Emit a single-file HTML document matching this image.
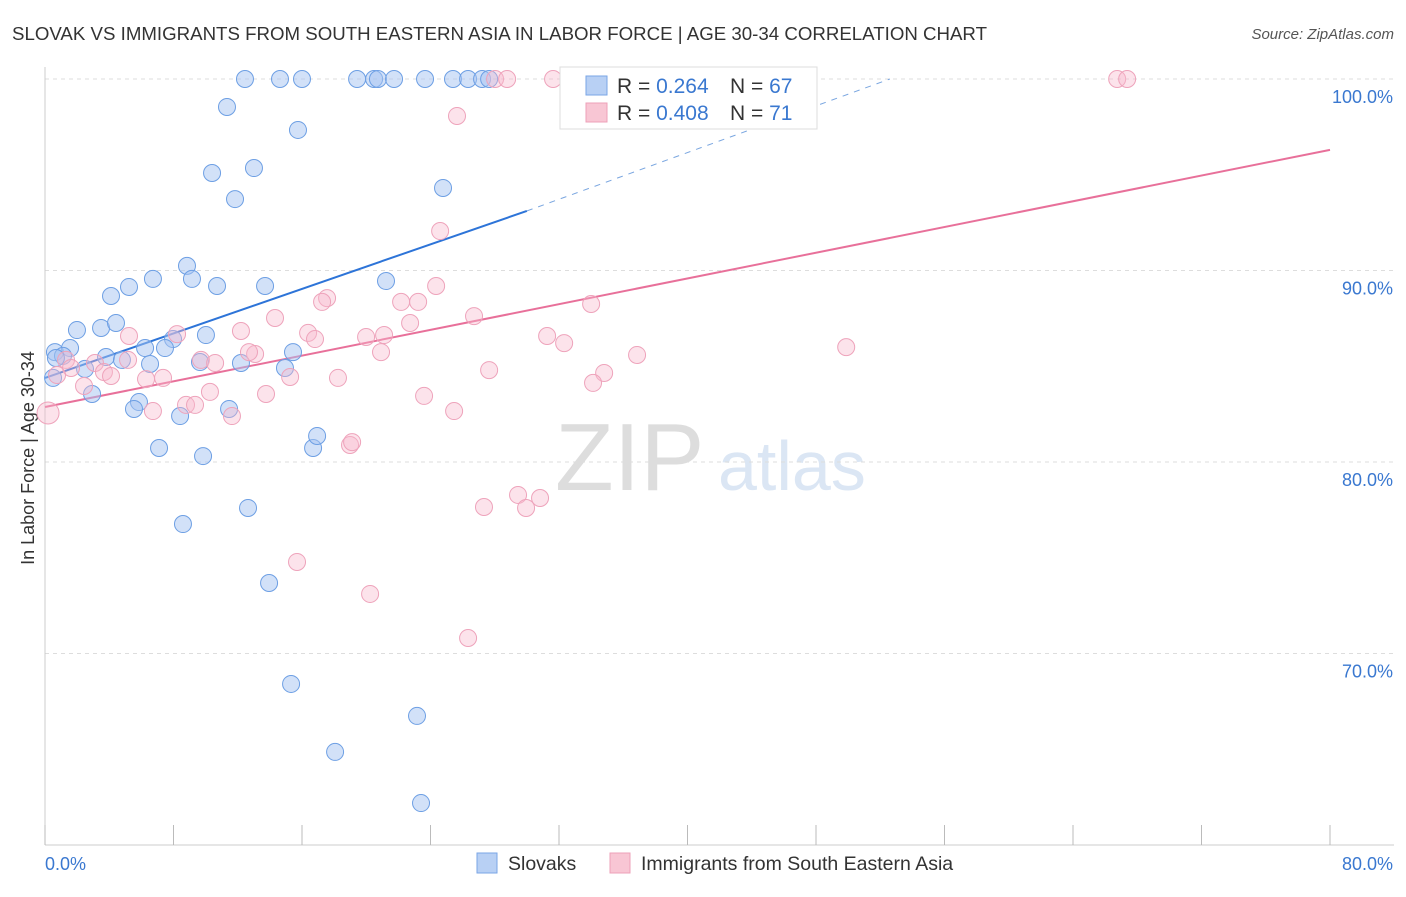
<!DOCTYPE html>
<html><head><meta charset="utf-8"><style>
body{margin:0;background:#fff;font-family:"Liberation Sans",sans-serif}
svg text{font-family:"Liberation Sans",sans-serif}
</style></head><body>
<svg id="chart" width="1406" height="892" xmlns="http://www.w3.org/2000/svg">
<text x="12" y="40" font-size="18.5" fill="#333" textLength="975" lengthAdjust="spacingAndGlyphs">SLOVAK VS IMMIGRANTS FROM SOUTH EASTERN ASIA IN LABOR FORCE | AGE 30-34 CORRELATION CHART</text>
<text x="1394" y="39" font-size="15" fill="#555" text-anchor="end" font-style="italic">Source: ZipAtlas.com</text>
<text x="555" y="490" font-size="96" fill="#ddd" font-family="Liberation Serif">ZIP</text>
<text x="718" y="490" font-size="70" fill="#dbe6f4">atlas</text>
<text transform="translate(34,458) rotate(-90)" font-size="18" fill="#333" text-anchor="middle">In Labor Force | Age 30-34</text>
<g id="grid"></g><g id="axes"></g><g id="lines"></g><g id="pts"></g>
<g>
<rect x="560" y="67" width="257" height="62" fill="#fff" stroke="#ddd"/>
<rect x="586" y="76" width="21" height="19" fill="#b8d0f4" stroke="#7aa6e6"/>
<rect x="586" y="103" width="21" height="19" fill="#f8c6d4" stroke="#eea0b8"/>
<text x="617" y="93" font-size="21" fill="#333">R = <tspan fill="#3a78d0">0.264</tspan></text>
<text x="730" y="93" font-size="21" fill="#333">N = <tspan fill="#3a78d0">67</tspan></text>
<text x="617" y="120" font-size="21" fill="#333">R = <tspan fill="#3a78d0">0.408</tspan></text>
<text x="730" y="120" font-size="21" fill="#333">N = <tspan fill="#3a78d0"> 71</tspan></text>
</g>
<g>
<rect x="477" y="853" width="20" height="20" fill="#b8d0f4" stroke="#7aa6e6"/>
<text x="508" y="870" font-size="19.5" fill="#333">Slovaks</text>
<rect x="610" y="853" width="20" height="20" fill="#f8c6d4" stroke="#eea0b8"/>
<text x="641" y="870" font-size="19.5" fill="#333">Immigrants from South Eastern Asia</text>
</g>
</svg>
<script>
const yTicks=[70,80,90,100];
const xTickLabels=["0.0%","80.0%"];
const blueX=[12.45,14.63,16.0,19.43,20.49,20.73,21.73,23.66,25.4,26.34,27.21,27.65,11.33,15.75,10.4,13.01,11.83,24.78,8.84,9.15,6.72,10.71,13.7,5.23,4.11,21.23,1.99,3.49,4.42,10.02,7.97,6.23,7.47,15.44,0.62,1.56,1.12,0.68,3.8,4.79,6.54,9.65,12.2,14.94,2.49,0.5,2.93,5.85,5.54,11.46,8.41,7.1,9.84,16.69,16.94,8.59,12.64,13.95,15.32,23.16,18.06,23.41];
const blueY=[100,100,100,100,100,100,100,100,100,100,100,100,98.54,97.34,95.09,95.35,93.73,94.31,90.24,89.56,89.56,89.19,89.19,89.14,88.67,89.45,86.89,87.0,87.26,86.63,86.42,85.95,85.95,85.74,85.74,85.95,85.54,85.43,85.48,85.33,85.12,85.22,85.17,84.91,84.86,84.39,83.55,83.13,82.77,82.77,82.4,80.73,80.31,80.73,81.36,76.76,77.6,73.68,68.41,66.74,64.86,62.19];
const pinkX=[43.09,66.75,67.37,28.02,28.77,31.63,25.65,24.6,24.35,17.56,17.25,22.17,23.23,34.0,26.71,14.32,22.73,12.2,8.22,5.23,16.38,16.81,19.99,21.11,31.26,32.32,49.88,36.86,20.92,13.08,12.7,9.71,10.59,5.17,3.11,1.31,1.62,3.67,0.75,4.11,2.43,6.29,7.35,15.26,18.24,27.65,34.81,34.12,10.27,13.76,23.6,6.72,8.78,9.34,11.64,25.47,18.99,19.12,0.19,29.45,30.82,27.33,29.95,15.69,20.24,26.34];
const pinkY=[100,100,100,100,100,100,98.07,92.06,89.19,88.56,88.36,88.36,88.36,88.25,87.62,87.52,87.26,86.84,86.68,86.58,86.74,86.42,86.53,86.63,86.58,86.21,86.0,85.59,85.74,85.64,85.74,85.33,85.17,85.33,85.17,85.33,84.91,84.7,84.54,84.49,83.97,84.33,84.39,84.44,84.39,84.8,84.65,84.13,83.66,83.55,83.45,82.66,82.98,82.98,82.4,82.66,80.89,81.04,82.56,78.28,78.12,77.65,77.6,74.78,73.11,70.81];
const blueLine=[[0,84.39],[30.0,93.11]];
const blueDash=[[30.0,93.11],[52.6,100]];
const pinkLine=[[0,82.87],[80,96.3]];
const NS="http://www.w3.org/2000/svg";
const sx=v=>45+v*1285/80, sy=v=>79+(100-v)*19.15;
function mk(t,a,p){const e=document.createElementNS(NS,t);for(const k in a)e.setAttribute(k,a[k]);p.appendChild(e);return e;}
const g=document.getElementById('grid'),ax=document.getElementById('axes'),ln=document.getElementById('lines'),pt=document.getElementById('pts');
yTicks.forEach(t=>{const l=mk('line',{x1:45,x2:1394,y1:sy(t),y2:sy(t),stroke:'#ddd','stroke-dasharray':'4,4'},g);


const tx=mk('text',{x:1393,y:sy(t)+24,'font-size':18,fill:'#3a78d0','text-anchor':'end'},g);tx.textContent=t+'.0%';

});
const xa=mk('line',{x1:45,x2:1394,y1:845,y2:845,stroke:'#ccc'},ax);


const ya=mk('line',{x1:45,x2:45,y1:67,y2:845,stroke:'#ccc'},ax);


for(let i=0;i<=10;i++){const t=mk('line',{x1:sx(i*8),x2:sx(i*8),y1:825,y2:845,stroke:'#bbb'},ax);

}
const xl0=mk('text',{x:45,y:870,'font-size':18,fill:'#3a78d0'},ax);xl0.textContent=xTickLabels[0];


const xl1=mk('text',{x:1393,y:870,'font-size':18,fill:'#3a78d0','text-anchor':'end'},ax);xl1.textContent=xTickLabels[1];


function pts(X,Y,fill,stroke,name){X.forEach((x,i)=>{const c=mk('circle',{cx:sx(x),cy:sy(Y[i]),r:(x<0.3&&name==='pink')?11:8.5,fill:fill,stroke:stroke,'stroke-width':1},pt);

});}
pts(blueX,blueY,'rgba(165,195,242,0.5)','#6d9fe4','blue');
pts(pinkX,pinkY,'rgba(248,185,205,0.4)','#eea3bb','pink');
function line(L,col,w,dash,name){const l=mk('line',{x1:sx(L[0][0]),y1:sy(L[0][1]),x2:sx(L[1][0]),y2:sy(L[1][1]),stroke:col,'stroke-width':w},ln);if(dash)l.setAttribute('stroke-dasharray',dash);

}
line(pinkLine,'#e8709a',2,null,'pink-trend-line');
line(blueLine,'#2d74d8',2,null,'blue-trend-line');
line(blueDash,'#7aa6e0',1,'6,6','blue-trend-extension');
</script>
</body></html>
